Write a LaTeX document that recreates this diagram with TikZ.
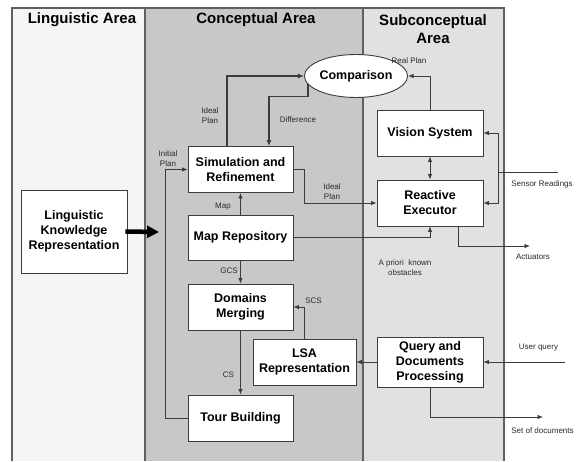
\documentclass[tikz,border=0pt]{standalone}
\usepackage{fontspec}
\setmainfont{Liberation Sans}
\usetikzlibrary{shapes.geometric,arrows.meta,calc}

\definecolor{lingbg}{HTML}{F5F5F5}
\definecolor{concbg}{HTML}{C8C8C8}
\definecolor{subbg}{HTML}{E1E1E1}
\definecolor{frameline}{HTML}{606060}
\definecolor{wire}{HTML}{3C3C3C}
\definecolor{labeltext}{HTML}{2A2A2A}

\tikzset{
  block/.style={draw=wire, line width=0.9pt, fill=white, align=center,
    font=\fontsize{12.5}{15}\selectfont\bfseries, inner sep=0pt,
    minimum width=105pt, minimum height=46pt},
  oval/.style={ellipse, draw=wire, line width=0.9pt, fill=white, inner sep=0pt,
    font=\fontsize{12.5}{15}\selectfont\bfseries,
    minimum width=96pt, minimum height=43pt},
  areatitle/.style={font=\fontsize{15}{18}\selectfont\bfseries, align=center},
  tag/.style={font=\fontsize{8}{10}\selectfont, text=labeltext, align=center, inner sep=0pt},
  arr/.style={draw=wire, line width=0.8pt, -{Latex[length=5.5pt,width=4.5pt]}},
  arrbold/.style={draw=wire, line width=1.1pt, -{Latex[length=6pt,width=5pt]}},
  dblarr/.style={draw=wire, line width=0.8pt, {Latex[length=5.5pt,width=4.5pt]}-{Latex[length=5.5pt,width=4.5pt]}},
  plain/.style={draw=wire, line width=0.8pt},
  fatarr/.style={draw=black, line width=4.5pt, -{Triangle[length=12pt,width=12pt]}}
}

\begin{document}
\begin{tikzpicture}[x=1pt,y=-1pt]
\useasboundingbox (0,0) rectangle (584,462);
\fill[white] (0,0) rectangle (584,462);

% three areas
\fill[lingbg] (12,8) rectangle (145,461);
\fill[concbg] (145,8) rectangle (363,461);
\fill[subbg] (363,8) rectangle (504,461);
\draw[frameline, line width=1.2pt] (12,461) -- (12,8) -- (504,8) -- (504,461);
\draw[frameline, line width=1.2pt] (145,8) -- (145,461);
\draw[frameline, line width=1.2pt] (363,8) -- (363,461);

\node[areatitle] (tling) at (82,20) {Linguistic Area};
\node[areatitle] (tconc) at (256,20) {Conceptual Area};
\node[areatitle] (tsub) at (433,29) {Subconceptual\\Area};

% blocks
\node[block, minimum width=106pt, minimum height=83pt] (ling) at (74,231.5) {Linguistic\\Knowledge\\Representation};
\node[block] (sim) at (240.5,169.5) {Simulation and\\Refinement};
\node[block, minimum height=45pt] (map) at (240.5,237.5) {Map Repository};
\node[block] (dom) at (240.5,307) {Domains\\Merging};
\node[block, minimum width=103pt] (lsa) at (304.5,362) {LSA\\Representation};
\node[block] (tour) at (240.5,418) {Tour Building};
\node[block, minimum width=106pt] (vis) at (430,133) {Vision System};
\node[block, minimum width=106pt] (reac) at (430,203) {Reactive\\Executor};
\node[block, minimum width=106pt, minimum height=50pt] (query) at (430,362) {Query and\\Documents\\Processing};
\node[oval] (comp) at (356,76) {Comparison};

% free ends
\coordinate (lingin) at (159,232);
\coordinate (sensin) at (558,172);
\coordinate (sensj) at (498,172);
\coordinate (actout) at (530,246);
\coordinate (uqin) at (565,362);
\coordinate (docsout) at (543,417);

% connectors
\draw[fatarr] ([xshift=-2pt]ling.east) -- (lingin);
\draw[arrbold] ([xshift=-13.5pt]sim.north) |- (comp.west);
\draw[arrbold] (comp.190) -- ++(0,12) -| ([xshift=28.5pt]sim.north);
\draw[arr] (vis.north) |- (comp.east);
\draw[dblarr] (vis.south) -- (reac.north);
\draw[plain] (sensin) -- (sensj);
\draw[arr] (sensj) |- (vis.east);
\draw[arr] (sensj) |- (reac.east);
\draw[arr] (sim.east) -- ++(11,0) |- (reac.west);
\draw[arr] (map.north) -- (sim.south);
\draw[arr] (map.east) -| (reac.south);
\draw[arr] ([xshift=28pt]reac.south) |- (actout);
\draw[arr] (map.south) -- (dom.north);
\draw[arr] (lsa.north) |- (dom.east);
\draw[arr] (dom.south) -- (tour.north);
\draw[arr] (tour.west) -- ++(-22,0) |- (sim.west);
\draw[arr] (query.west) -- (lsa.east);
\draw[arr] (uqin) -- (query.east);
\draw[arr] (query.south) |- (docsout);

% connector labels
\node[tag] (lidealtop) at (210,116) {Ideal\\Plan};
\node[tag] (ldiff) at (298,120) {Difference};
\node[tag] (linit) at (168,159) {Initial\\Plan};
\node[tag] (lreal) at (409,61) {Real Plan};
\node[tag] (lidealmid) at (332,192) {Ideal\\Plan};
\node[tag] (lsens) at (542,184) {Sensor Readings};
\node[tag] (lmap) at (223,207) {Map};
\node[tag] (lobst) at (405,267.5) {A priori\ \ known\\obstacles};
\node[tag] (lact) at (533,257) {Actuators};
\node[tag] (lgcs) at (229,271) {GCS};
\node[tag] (lscs) at (313.5,301) {SCS};
\node[tag] (lcs) at (228.5,375) {CS};
\node[tag] (luq) at (538.5,348) {User query};
\node[tag] (ldocs) at (542.5,431) {Set of documents};
\end{tikzpicture}
\end{document}
